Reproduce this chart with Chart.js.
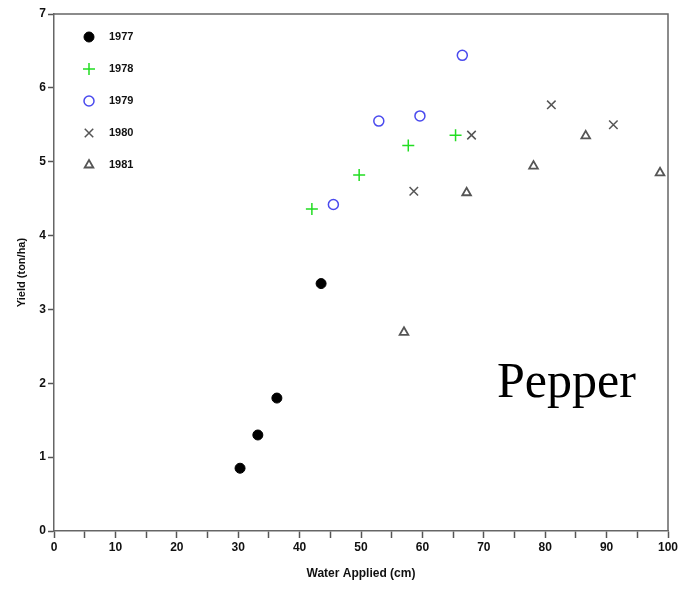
<!DOCTYPE html>
<html>
<head>
<meta charset="utf-8">
<script src="https://cdn.jsdelivr.net/npm/chart.js@4"></script>
<style>
  html, body { margin: 0; padding: 0; background: #fff; }
  #wrap { position: relative; width: 693px; height: 592px; }
</style>
</head>
<body>
<div id="wrap"><canvas id="pepperChart" width="693" height="592"></canvas></div>
<script>
// Yield vs water applied, one series per year
const years = ['1977', '1978', '1979', '1980', '1981'];
const water1977 = [30.3, 33.2, 36.3, 43.5];
const yield1977 = [0.85, 1.30, 1.80, 3.35];
const water1978 = [42.0, 49.7, 57.7, 65.4];
const yield1978 = [4.36, 4.82, 5.22, 5.36];
const water1979 = [45.5, 52.9, 59.6, 66.5];
const yield1979 = [4.42, 5.55, 5.62, 6.44];
const water1980 = [58.6, 68.0, 81.0, 91.1];
const yield1980 = [4.60, 5.36, 5.77, 5.50];
const water1981 = [57.0, 67.2, 78.1, 86.6, 98.7];
const yield1981 = [2.69, 4.58, 4.94, 5.35, 4.85];
const xTicks = [0, 10, 20, 30, 40, 50, 60, 70, 80, 90, 100];
const yTicks = [0, 1, 2, 3, 4, 5, 6, 7];

const axisFont = { family: "'Liberation Sans Narrow', 'Liberation Sans', Arial, sans-serif", size: 12, weight: 'bold' };

function pts(xs, ys) {
    return xs.map((x, i) => ({ x: x, y: ys[i] }));
}

const styles = [
    { pointStyle: 'circle', radius: 5, bg: '#000', border: '#000', bw: 1 },
    { pointStyle: 'cross', radius: 6, bg: 'transparent', border: '#22dd22', bw: 1.5 },
    { pointStyle: 'circle', radius: 5, bg: 'transparent', border: '#4a4aee', bw: 1.5 },
    { pointStyle: 'crossRot', radius: 6, bg: 'transparent', border: '#555', bw: 1.5 },
    { pointStyle: 'triangle', radius: 5, bg: 'transparent', border: '#555', bw: 1.8 }
];
const seriesData = [
    pts(water1977, yield1977),
    pts(water1978, yield1978),
    pts(water1979, yield1979),
    pts(water1980, yield1980),
    pts(water1981, yield1981)
];

// Box round the plot + legend inside + "Pepper" label
const framePlugin = {
    id: 'frame',
    afterDraw(chart) {
        const ctx = chart.ctx;
        const a = chart.chartArea;
        ctx.save();
        ctx.strokeStyle = '#666';
        ctx.lineWidth = 1.5;
        ctx.beginPath();
        ctx.moveTo(a.left, a.top);
        ctx.lineTo(a.right, a.top);
        ctx.lineTo(a.right, a.bottom);
        ctx.stroke();

        // legend
        ctx.font = "bold 11px 'Liberation Sans Narrow', 'Liberation Sans', Arial, sans-serif";
        ctx.textBaseline = 'middle';
        ctx.fillStyle = '#111';
        years.forEach((yr, i) => {
            const s = styles[i];
            const cy = a.top + 23 + i * 32;
            ctx.save();
            ctx.fillStyle = s.bg;
            ctx.strokeStyle = s.border;
            ctx.lineWidth = s.bw;
            Chart.helpers.drawPoint(ctx, { pointStyle: s.pointStyle, radius: s.radius, borderWidth: s.bw }, a.left + 35, cy);
            ctx.restore();
            ctx.fillText(yr, a.left + 55, cy);
        });

        ctx.font = "50px 'Liberation Serif', 'DejaVu Serif', serif";
        ctx.fillStyle = '#000';
        ctx.textBaseline = 'alphabetic';
        ctx.fillText('Pepper', 497, 397);
        ctx.restore();
    }
};

new Chart(document.getElementById('pepperChart').getContext('2d'), {
    type: 'scatter',
    data: {
        datasets: years.map((yr, i) => ({
            label: yr,
            data: seriesData[i],
            pointStyle: styles[i].pointStyle,
            pointRadius: styles[i].radius,
            backgroundColor: styles[i].bg,
            borderColor: styles[i].border,
            borderWidth: styles[i].bw
        }))
    },
    options: {
        responsive: false,
        animation: false,
        layout: { padding: { left: 15, right: 25, top: 14, bottom: 11 } },
        plugins: {
            legend: { display: false },
            tooltip: { enabled: false }
        },
        scales: {
            x: {
                type: 'linear',
                min: 0,
                max: 100,
                afterFit: s => { s.height = 50; },
                afterBuildTicks: s => {
                    const t = [];
                    for (let v = 0; v <= 100; v += 5) t.push({ value: v });
                    s.ticks = t;
                },
                grid: {
                    drawOnChartArea: false,
                    drawTicks: true,
                    tickLength: 7,
                    tickColor: '#555',
                    tickWidth: 1.5
                },
                border: { color: '#666', width: 1.5 },
                ticks: {
                    color: '#111',
                    font: axisFont,
                    padding: 2,
                    maxRotation: 0,
                    autoSkip: false,
                    callback: v => xTicks.includes(v) ? String(v) : ''
                },
                title: {
                    display: true,
                    text: 'Water Applied (cm)',
                    color: '#111',
                    font: axisFont,
                    padding: { top: 2, bottom: 0 }
                }
            },
            y: {
                type: 'linear',
                min: 0,
                max: 7,
                afterFit: s => { s.width = 39; },
                afterBuildTicks: s => { s.ticks = yTicks.map(v => ({ value: v })); },
                grid: {
                    drawOnChartArea: false,
                    drawTicks: true,
                    tickLength: 6,
                    tickColor: '#555',
                    tickWidth: 1.5
                },
                border: { color: '#666', width: 1.5 },
                ticks: {
                    color: '#111',
                    font: axisFont,
                    padding: 2
                },
                title: {
                    display: true,
                    text: 'Yield (ton/ha)',
                    color: '#111',
                    font: { family: axisFont.family, size: 11, weight: 'bold' },
                    padding: { top: 0, bottom: 4 }
                }
            }
        }
    },
    plugins: [framePlugin]
});
</script>
</body>
</html>
